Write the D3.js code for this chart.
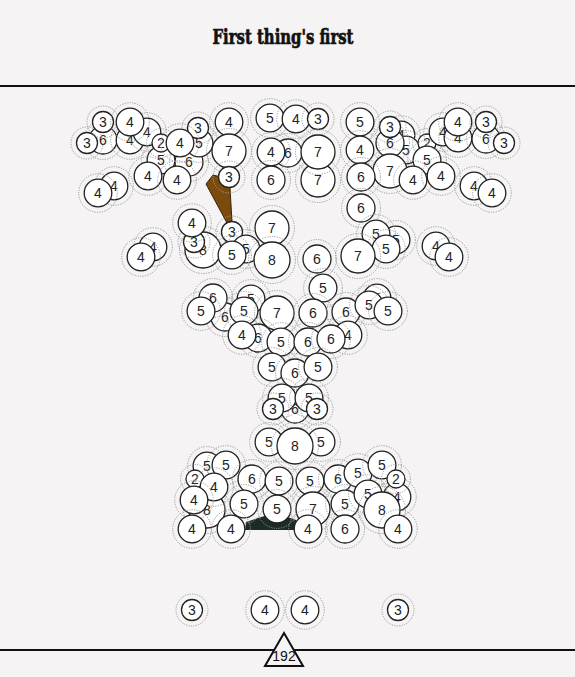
<!DOCTYPE html>
<html><head><meta charset="utf-8">
<script src="https://cdn.jsdelivr.net/npm/d3@7"></script>
<style>html,body{margin:0;padding:0;background:#f5f3f4;}svg{display:block;}</style>
</head><body>
<script>
// ---- data ----
const title = "First thing's first";
const totalLabel = "192";
// node positions (layout units) and values
const nodeX = [103,130,147,87,103,130,161,189,199,198,161,180,148,177,229,229,229,114,98,
  288,270,296,318,271,318,271,318,
  401,406,390,390,360,360,427,427,390,413,441,443,458,458,486,486,504,361,474,492,
  361,203,194,192,232,246,232,272,272,153,141,317,396,376,386,358,436,449,
  323,251,225,213,201,244,277,313,377,346,369,388,258,242,281,308,348,331,272,295,318,
  295,282,309,273,317,269,321,295,
  207,397,207,226,195,214,252,279,310,338,358,382,396,194,244,277,313,345,368,382,192,231,308,345,398,
  192,265,305,398];
const nodeY = [140,140,132,143,122,122,160,162,143,128,143,143,176,180,122,151,177,186,193,
  153,118,119,119,152,180,180,152,
  135,150,143,127,122,150,143,160,171,180,176,132,138,122,139,122,143,177,186,193,
  208,250,242,223,232,249,255,228,260,247,257,259,240,234,249,256,246,257,
  288,299,317,298,311,311,313,313,298,312,305,311,338,335,342,342,335,339,367,373,367,
  409,398,398,409,409,442,442,446,
  510,497,466,465,479,487,479,481,481,479,473,465,479,500,504,509,509,504,494,510,529,529,529,529,529,
  610,610,610,610];
const nodeValue = [6,4,4,3,3,4,5,6,5,3,2,4,4,4,4,7,3,4,4,
  6,5,4,3,4,7,6,7,
  4,5,6,3,5,4,2,5,7,4,4,4,4,4,6,3,3,6,4,4,
  6,8,3,4,3,5,5,7,8,4,4,6,5,5,5,7,4,4,
  5,5,6,6,5,5,7,6,5,6,5,5,6,4,5,6,4,6,5,6,5,
  6,5,5,3,3,5,5,8,
  8,4,5,5,2,4,6,5,5,6,5,5,2,4,5,5,7,5,5,8,4,4,4,6,4,
  3,4,4,3];
// decorative polygons (layout units)
const branchX = [206,213,221,230,232,227];
const branchY = [184,175,177,188,222,223];
const baseX = [245,246,258,268,285,296,298];
const baseY = [530,522,518,515,516,520,530];

// ---- drawing ----
const W = 575, H = 677;
const svg = d3.select("body").append("svg").attr("width", W).attr("height", H);
svg.append("rect").attr("width", W).attr("height", H).attr("fill", "#f5f3f4");

const x = d3.scaleLinear().domain([0, 575]).range([0, W]);
const y = d3.scaleLinear().domain([0, 677]).range([0, H]);
const r = d3.scaleLinear().domain([2,3,4,6,7,8]).range([9,10.5,13.8,14,17,18]).clamp(true);

svg.append("text").attr("x", 283).attr("y", 44).attr("text-anchor","middle")
  .attr("font-family","'DejaVu Serif', serif").attr("font-weight","bold").attr("font-size",21)
  .attr("textLength",141).attr("lengthAdjust","spacingAndGlyphs").attr("fill","#111")
  .attr("stroke","#111").attr("stroke-width",0.7).text(title);

svg.append("line").attr("x1",0).attr("x2",W).attr("y1",86).attr("y2",86).attr("stroke","#111").attr("stroke-width",2);
svg.append("line").attr("x1",0).attr("x2",W).attr("y1",650).attr("y2",650).attr("stroke","#111").attr("stroke-width",2);

const line = d3.line().x(d => x(d[0])).y(d => y(d[1]));
svg.append("path").attr("d", line(d3.zip(branchX, branchY)) + "Z").attr("fill", "#7b4b0e").attr("stroke","#3a2505").attr("stroke-width",1);
svg.append("path").attr("d", line(d3.zip(baseX, baseY)) + "Z").attr("fill", "#1d2b25");

const nodes = nodeX.map((d, i) => ({x: d, y: nodeY[i], v: nodeValue[i]}));
const g = svg.selectAll("g.node").data(nodes).join("g").attr("class","node")
  .attr("transform", d => `translate(${x(d.x)},${y(d.y)})`);
g.append("circle").attr("r", d => r(d.v) + 5.5).attr("fill","none")
  .attr("stroke","#9a9a9a").attr("stroke-width",1).attr("stroke-dasharray","1.2,1.3");
g.append("circle").attr("r", d => r(d.v)).attr("fill","#fff").attr("stroke","#222").attr("stroke-width",1.3);
g.append("text").attr("text-anchor","middle").attr("dy","0.36em")
  .attr("font-family","'Liberation Sans', Arial, sans-serif").attr("font-size",14).attr("fill","#222")
  .text(d => d.v);

// total marker
const tri = [[284,633],[265,666],[303,666]];
svg.append("path").attr("d", line(tri) + "Z").attr("fill","#f5f3f4").attr("stroke","#111").attr("stroke-width",2);
svg.append("text").attr("x",284).attr("y",656).attr("text-anchor","middle").attr("dy","0.35em")
  .attr("font-family","'Liberation Sans', Arial, sans-serif").attr("font-size",14).attr("fill","#111").text(totalLabel);
</script>
</body></html>
